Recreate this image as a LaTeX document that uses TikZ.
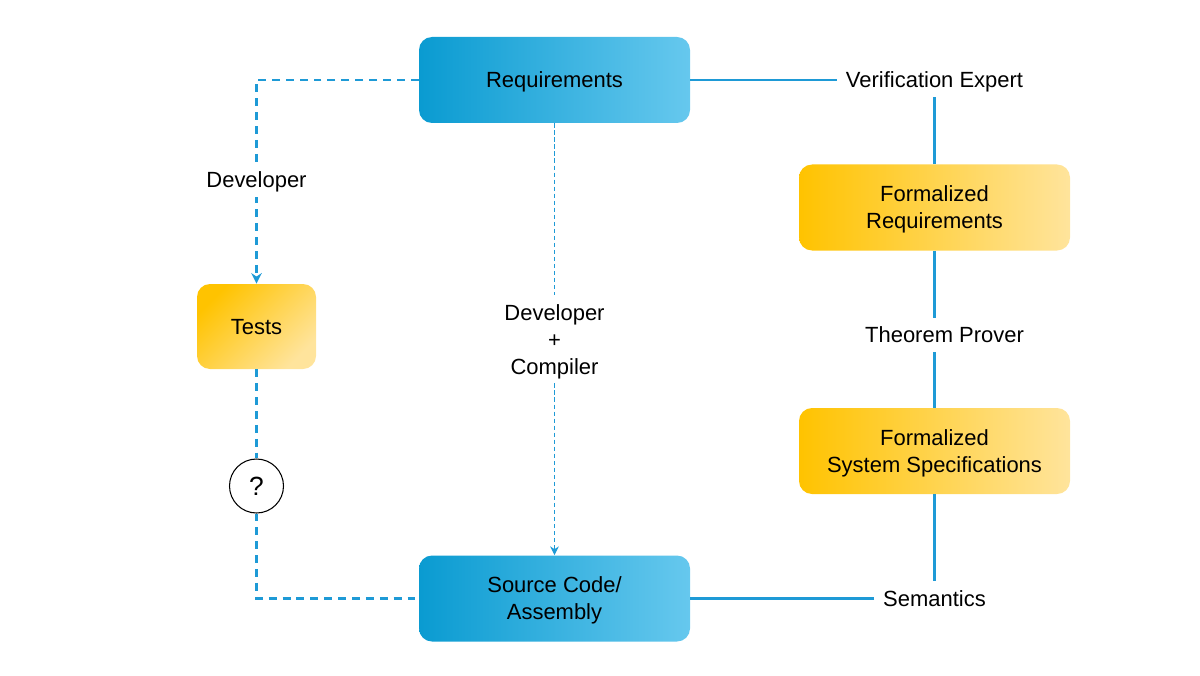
\documentclass[tikz,border=0pt]{standalone}
\usepackage{fontspec}
\setmainfont{Liberation Sans}
\usetikzlibrary{arrows.meta}
\usetikzlibrary{positioning}
\usetikzlibrary{calc}

\definecolor{blueL}{HTML}{0A9BD1}
\definecolor{blueR}{HTML}{66C8EE}
\definecolor{yellowL}{HTML}{FFC300}
\definecolor{yellowR}{HTML}{FFE49C}
\definecolor{lineblue}{HTML}{1E9AD6}

\begin{document}
\begin{tikzpicture}[
			font=\fontsize{12.5}{15.4}\selectfont,
			artifact/.style={rectangle, rounded corners=0.26cm, minimum width=5.42cm, minimum height=1.72cm, text centered, align=center, left color=blueL, right color=blueR, text depth=0pt},
			formal/.style={rectangle, rounded corners=0.26cm, minimum width=5.42cm, minimum height=1.72cm, text centered, align=center, left color=yellowL, right color=yellowR, text depth=0pt},
			tag/.style={inner sep=5pt, text centered, align=center, text depth=0pt},
			link/.style={draw=lineblue, line width=1.3pt},
			dashlink/.style={draw=lineblue, line width=1.3pt, dash pattern=on 4.5pt off 3.4pt},
			thinlink/.style={draw=lineblue, line width=0.7pt, dash pattern=on 2.4pt off 1.6pt},
			]
			\useasboundingbox (0,0) rectangle (24,13.5);
			
			\node[artifact]      (req)   at (11.09,11.9)                                       {Requirements};
			\node[artifact]      (src)   at (11.09,1.53)                                       {Source Code/\\Assembly};
			\node[formal]        (freq)  at (18.69,9.35)                                       {Formalized\\Requirements};
			\node[formal]        (fspec) at (18.69,4.48)                                       {Formalized\\System Specifications};
			\node[formal, minimum width=2.38cm, minimum height=1.7cm, shading angle=45] (tests) at (5.13,6.97) {Tests};
			\node[circle, draw=black, line width=0.6pt, minimum size=1.08cm, inner sep=0pt, font=\fontsize{15}{18}\selectfont] (unknown) at (5.13,3.78) {?};
			
			\node[tag]           (expert)  at (18.69,11.9)                                     {Verification Expert};
			\node[tag]           (prover)  at (18.89,6.8)                                      {Theorem Prover};
			\node[tag]           (sem)     at (18.69,1.53)                                     {Semantics};
			
			\draw [link] (req.east)                  -- (expert.west);
			\draw [link] (freq.north |- expert.south) -- (freq.north);
			\draw [link] (freq.south)                -- (freq.south |- prover.north);
			\draw [link] (fspec.north |- prover.south) -- (fspec.north);
			\draw [link] (fspec.south)               -- (fspec.south |- sem.north);
			\draw [link] (sem.west)                  -- (src.east);
			
			\draw [dashlink, arrows={-Stealth[length=6pt, width=6pt]}] (req.west)         -|node[pos=0.745, fill=white, tag, inner xsep=2pt]  {Developer}     (tests.north);
			\draw [dashlink] (tests.south)                                                  --                                                  (unknown.north);
			\draw [dashlink] (unknown.south)                                                |-                                                  (src.west);
			\draw [thinlink, arrows={-Stealth[length=5pt, width=5pt]}] (req.south)          --node[fill=white, tag, inner xsep=2pt]           {Developer\\+\\Compiler}  (src.north);
			
\end{tikzpicture}
\end{document}
